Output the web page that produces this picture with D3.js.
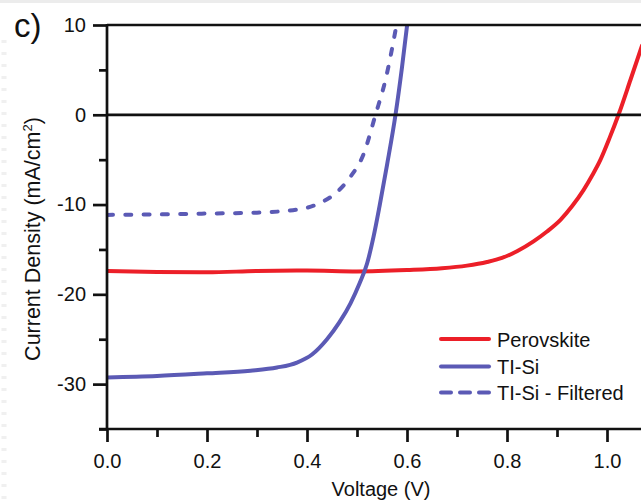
<!DOCTYPE html>
<html>
<head>
<meta charset="utf-8">
<script src="https://cdn.jsdelivr.net/npm/d3@7"></script>
<style>
  html, body { margin: 0; padding: 0; background: #fff; }
  svg { display: block; }
  text { font-family: "Liberation Sans", Arial, Helvetica, sans-serif; fill: #111; }
</style>
</head>
<body>
<svg id="chart" width="641" height="502"></svg>
<script>
// J–V curves: voltage (V) and current density (mA/cm²)
const perovskiteV = [0, 0.1, 0.2, 0.3, 0.4, 0.5, 0.6, 0.67, 0.72, 0.76, 0.79, 0.82, 0.853, 0.88, 0.907, 0.93, 0.953, 0.97, 0.987, 1.005, 1.023, 1.047, 1.07];
const perovskiteJ = [-17.4, -17.5, -17.55, -17.4, -17.35, -17.45, -17.3, -17.1, -16.8, -16.4, -15.95, -15.2, -14.1, -13.0, -11.7, -10.2, -8.4, -6.8, -5.0, -2.6, 0, 3.9, 7.7];

const tiSiV = [0, 0.1, 0.2, 0.287, 0.34, 0.38, 0.41, 0.44, 0.465, 0.487, 0.505, 0.52, 0.533, 0.545, 0.56, 0.577, 0.59, 0.602];
const tiSiJ = [-29.25, -29.1, -28.8, -28.5, -28.15, -27.6, -26.7, -25.0, -23.1, -21.0, -18.8, -16.6, -13.6, -10.2, -5.6, 0, 5.3, 10.8];

const tiSiFilteredV = [0, 0.1, 0.2, 0.3, 0.387, 0.427, 0.457, 0.487, 0.513, 0.537, 0.557, 0.58];
const tiSiFilteredJ = [-11.15, -11.1, -11.0, -10.9, -10.5, -9.8, -8.75, -6.9, -4.4, 0, 3.9, 10.3];

const seriesNames = ["Perovskite", "TI-Si", "TI-Si - Filtered"];
const seriesColors = ["#ec1f28", "#5b5ab5", "#5b5ab5"];

const xMajorTicks = [0, 0.2, 0.4, 0.6, 0.8, 1.0];
const xMajorLabels = ["0.0", "0.2", "0.4", "0.6", "0.8", "1.0"];
const xMinorTicks = [0.1, 0.3, 0.5, 0.7, 0.9];
const yMajorTicks = [10, 0, -10, -20, -30];
const yMajorLabels = ["10", "0", "-10", "-20", "-30"];
const yMinorTicks = [5, -5, -15, -25, -35];

const svg = d3.select("#chart");
const W = 641, H = 502;
const plotLeft = 107, plotRight = 641, plotTop = 25, plotBottom = 429;

const x = d3.scaleLinear().domain([0, 1.068]).range([plotLeft, plotRight]);
const y = d3.scaleLinear().domain([-35, 10]).range([plotBottom, plotTop]);

svg.append("rect").attr("width", W).attr("height", H).attr("fill", "#fff");

// faint page edge
svg.append("line").attr("x1", 0).attr("x2", W).attr("y1", 1.5).attr("y2", 1.5)
  .attr("stroke", "#ececec").attr("stroke-width", 3);
svg.append("line").attr("x1", 4).attr("x2", 4).attr("y1", 40).attr("y2", H)
  .attr("stroke", "#f0f0f0").attr("stroke-width", 5).attr("stroke-dasharray", "3,9");

const axisStroke = 2.7;

// curves, clipped to the plotting area
svg.append("defs").append("clipPath").attr("id", "plotClip")
  .append("rect").attr("x", plotLeft).attr("y", plotTop)
  .attr("width", plotRight - plotLeft).attr("height", plotBottom - plotTop);

const line = d3.line().x(d => x(d[0])).y(d => y(d[1])).curve(d3.curveMonotoneX);
const series = [
  { v: perovskiteV, j: perovskiteJ, dash: null },
  { v: tiSiV, j: tiSiJ, dash: null },
  { v: tiSiFilteredV, j: tiSiFilteredJ, dash: "6,12.3" }
];
const curves = svg.append("g").attr("clip-path", "url(#plotClip)");
series.forEach((s, i) => {
  curves.append("path")
    .datum(d3.zip(s.v, s.j))
    .attr("d", line)
    .attr("fill", "none")
    .attr("stroke", seriesColors[i])
    .attr("stroke-width", 4)
    .attr("stroke-linecap", "round")
    .attr("stroke-linejoin", "round")
    .attr("stroke-dasharray", s.dash);
});

// reference lines at J = 10 (top frame) and J = 0
svg.append("line").attr("x1", plotLeft).attr("x2", plotRight).attr("y1", y(10)).attr("y2", y(10))
  .attr("stroke", "#111").attr("stroke-width", axisStroke);
svg.append("line").attr("x1", plotLeft).attr("x2", plotRight).attr("y1", y(0)).attr("y2", y(0))
  .attr("stroke", "#111").attr("stroke-width", axisStroke);

// x axis
const xAxisG = svg.append("g").attr("transform", `translate(0,${plotBottom})`);
xAxisG.append("g").call(d3.axisBottom(x).tickValues(xMinorTicks).tickSize(8).tickFormat(""));
xAxisG.append("g").call(d3.axisBottom(x).tickValues(xMajorTicks).tickSize(13).tickPadding(12)
  .tickFormat((d, i) => xMajorLabels[i]));
xAxisG.selectAll(".domain").remove();
xAxisG.selectAll(".tick line").attr("stroke", "#111").attr("stroke-width", axisStroke);
xAxisG.selectAll(".tick text").attr("font-size", 20).attr("fill", "#111");
xAxisG.append("line").attr("x1", plotLeft - 8).attr("x2", plotRight).attr("y1", 0).attr("y2", 0)
  .attr("stroke", "#111").attr("stroke-width", axisStroke);

// y axis
const yAxisG = svg.append("g").attr("transform", `translate(${plotLeft},0)`);
yAxisG.append("g").call(d3.axisLeft(y).tickValues(yMinorTicks).tickSize(8).tickFormat(""));
yAxisG.append("g").call(d3.axisLeft(y).tickValues(yMajorTicks).tickSize(14).tickPadding(7)
  .tickFormat((d, i) => yMajorLabels[i]));
yAxisG.selectAll(".domain").remove();
yAxisG.selectAll(".tick line").attr("stroke", "#111").attr("stroke-width", axisStroke);
yAxisG.selectAll(".tick text").attr("font-size", 20).attr("fill", "#111");
yAxisG.append("line").attr("x1", 0).attr("x2", 0).attr("y1", plotTop - 1).attr("y2", plotBottom + 1)
  .attr("stroke", "#111").attr("stroke-width", axisStroke);

// axis titles
svg.append("text").attr("x", 381).attr("y", 496).attr("text-anchor", "middle")
  .attr("font-size", 20).text("Voltage (V)");

const yTitle = svg.append("text")
  .attr("transform", "translate(40,239) rotate(-90)")
  .attr("text-anchor", "middle").attr("font-size", 21.5);
yTitle.append("tspan").text("Current Density (mA/cm");
yTitle.append("tspan").attr("font-size", 13).attr("dy", -8).text("2");
yTitle.append("tspan").attr("dy", 8).text(")");

// panel label
svg.append("text").attr("x", 14).attr("y", 37).attr("font-size", 33).text("c)");

// legend
const legendY = [339, 366.5, 392.5];
const legendDash = [null, null, "10,9"];
const legend = svg.append("g");
seriesNames.forEach((name, i) => {
  legend.append("line")
    .attr("x1", 441).attr("x2", 489)
    .attr("y1", legendY[i]).attr("y2", legendY[i])
    .attr("stroke", seriesColors[i]).attr("stroke-width", 4)
    .attr("stroke-linecap", "round")
    .attr("stroke-dasharray", legendDash[i]);
  legend.append("text")
    .attr("x", 497).attr("y", legendY[i] + 7.5)
    .attr("font-size", 20).text(name);
});
</script>
</body>
</html>
